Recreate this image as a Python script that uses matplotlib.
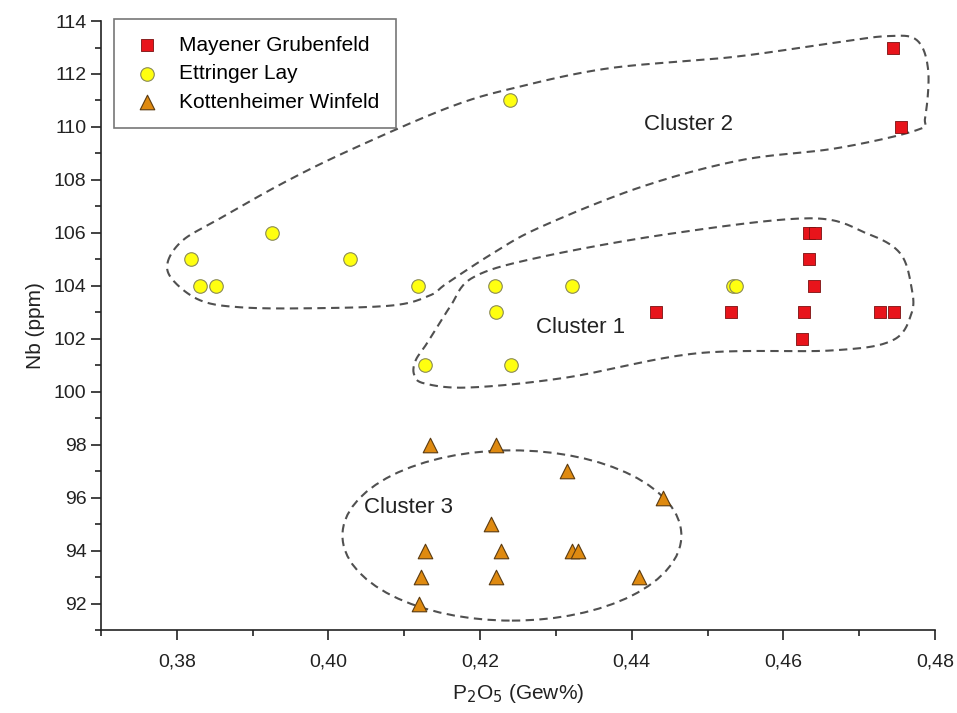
import numpy as np
import matplotlib
matplotlib.use('Agg')
import matplotlib.pyplot as plt
from matplotlib.patches import Ellipse
from matplotlib.ticker import MultipleLocator, FuncFormatter

plt.rcParams['font.family'] = ['Liberation Sans', 'DejaVu Sans']

# Mayener Grubenfeld (red squares)
mayen_x = [0.4744, 0.4755, 0.4634, 0.4642, 0.4634, 0.4640, 0.4432, 0.4531,
           0.4627, 0.4727, 0.4746, 0.4625]
mayen_y = [113, 110, 106, 106, 105, 104, 103, 103, 103, 103, 103, 102]

# Ettringer Lay (yellow circles)
ettr_x = [0.4239, 0.3926, 0.3819, 0.4028, 0.3831, 0.3852, 0.4118, 0.4220,
          0.4321, 0.4533, 0.4537, 0.4221, 0.4127, 0.4241]
ettr_y = [111, 106, 105, 105, 104, 104, 104, 104, 104, 104, 104, 103, 101, 101]

# Kottenheimer Winfeld (orange triangles)
kott_x = [0.4134, 0.4221, 0.4315, 0.4441, 0.4214, 0.4127, 0.4228, 0.4321,
          0.4329, 0.4122, 0.4221, 0.4410, 0.4119]
kott_y = [98, 98, 97, 96, 95, 94, 94, 94, 94, 93, 93, 93, 92]

# hand drawn cluster outlines (control points, data coords)
c2_x = [0.3788, 0.3808, 0.3853, 0.3940, 0.4028, 0.4160, 0.4249, 0.4371, 0.4533,
        0.4665, 0.4737, 0.4776, 0.4791, 0.4787, 0.4776, 0.4671, 0.4543, 0.4411,
        0.4279, 0.4217, 0.4156, 0.4134, 0.4085, 0.3972, 0.3883, 0.3831, 0.3795]
c2_y = [104.89, 105.72, 106.48, 107.88, 109.12, 110.75, 111.50, 112.22, 112.64,
        113.17, 113.43, 113.28, 112.15, 110.37, 109.88, 109.20, 108.74, 107.72,
        106.21, 105.23, 104.09, 103.64, 103.26, 103.15, 103.19, 103.45, 104.21]
c1_x = [0.4113, 0.4115, 0.4130, 0.4160, 0.4191, 0.4279, 0.4454, 0.4635, 0.4710,
        0.4754, 0.4769, 0.4769, 0.4744, 0.4665, 0.4486, 0.4315, 0.4187, 0.4127]
c1_y = [100.65, 101.18, 101.83, 103.19, 104.32, 105.08, 105.98, 106.55, 105.98,
        105.23, 103.94, 102.96, 101.94, 101.56, 101.45, 100.54, 100.16, 100.31]


def closed_spline(xs, ys, n=20):
    # catmull-rom through the points, closed loop
    p = np.column_stack([xs, ys])
    # work in roughly screen units so the curve is not distorted
    sc = np.array([834 / 0.11, 609 / 23])
    q = p * sc
    out = []
    m = len(q)
    for i in range(m):
        p0, p1, p2, p3 = q[i - 1], q[i], q[(i + 1) % m], q[(i + 2) % m]
        t = np.linspace(0, 1, n, endpoint=False)[:, None]
        seg = 0.5 * ((2 * p1) + (-p0 + p2) * t + (2 * p0 - 5 * p1 + 4 * p2 - p3) * t ** 2
                     + (-p0 + 3 * p1 - 3 * p2 + p3) * t ** 3)
        out.append(seg)
    out = np.vstack(out + [out[0][:1]]) / sc
    return out[:, 0], out[:, 1]


fig = plt.figure(figsize=(9.57, 7.13), dpi=100)
ax = fig.add_axes([0.1055, 0.1164, 0.8715, 0.8541])

dash = dict(color='#505050', lw=1.5, ls=(0, (4, 2.6)))
for cx, cy in [(c2_x, c2_y), (c1_x, c1_y)]:
    sx, sy = closed_spline(cx, cy)
    ax.plot(sx, sy, zorder=1, **dash)
ax.add_patch(Ellipse((0.4242, 94.57), 0.0447, 6.43, fill=False, zorder=1,
                     edgecolor='#505050', lw=1.5, ls=(0, (4, 2.6))))

ax.scatter(mayen_x, mayen_y, marker='s', s=70, c='#e8141b', edgecolors='#7a1010',
           linewidths=0.6, label='Mayener Grubenfeld', zorder=3)
ax.scatter(ettr_x, ettr_y, marker='o', s=95, c='#ffff10', edgecolors='#8a8a55',
           linewidths=0.8, label='Ettringer Lay', zorder=3)
ax.scatter(kott_x, kott_y, marker='^', s=110, c='#df8a10', edgecolors='#5a3a10',
           linewidths=0.8, label='Kottenheimer Winfeld', zorder=3)

ax.text(0.4475, 110.1, 'Cluster 2', fontsize=16, ha='center', va='center', color='#222222')
ax.text(0.4332, 102.43, 'Cluster 1', fontsize=16, ha='center', va='center', color='#222222')
ax.text(0.4106, 95.63, 'Cluster 3', fontsize=16, ha='center', va='center', color='#222222')

ax.set_xlim(0.37, 0.48)
ax.set_ylim(91, 114)
ax.spines['top'].set_visible(False)
ax.spines['right'].set_visible(False)
for s in ['left', 'bottom']:
    ax.spines[s].set_linewidth(1.2)
    ax.spines[s].set_color('#222222')

ax.xaxis.set_major_locator(MultipleLocator(0.02))
ax.xaxis.set_minor_locator(MultipleLocator(0.01))
ax.yaxis.set_major_locator(MultipleLocator(2))
ax.yaxis.set_minor_locator(MultipleLocator(1))
ax.set_xticks(np.arange(0.38, 0.481, 0.02))
ax.xaxis.set_major_formatter(FuncFormatter(lambda v, p: ('%.2f' % v).replace('.', ',')))
ax.tick_params(which='major', length=7, width=1.2, labelsize=14, colors='#222222')
ax.tick_params(which='minor', length=4, width=1.2, colors='#222222')
ax.tick_params(axis='x', pad=10)

ax.set_xlabel('P$_2$O$_5$ (Gew%)', fontsize=15, labelpad=8, color='#222222')
ax.set_ylabel('Nb (ppm)', fontsize=15, labelpad=6, color='#222222')

leg = ax.legend(loc='upper left', bbox_to_anchor=(0.016, 1.003), fontsize=15,
                frameon=True, fancybox=False, edgecolor='#555555',
                handlelength=1.5, handletextpad=0.8, borderpad=0.8,
                labelspacing=0.45, scatterpoints=1, borderaxespad=0)
leg.get_frame().set_linewidth(1.2)

fig.savefig('out.png', dpi=100)
